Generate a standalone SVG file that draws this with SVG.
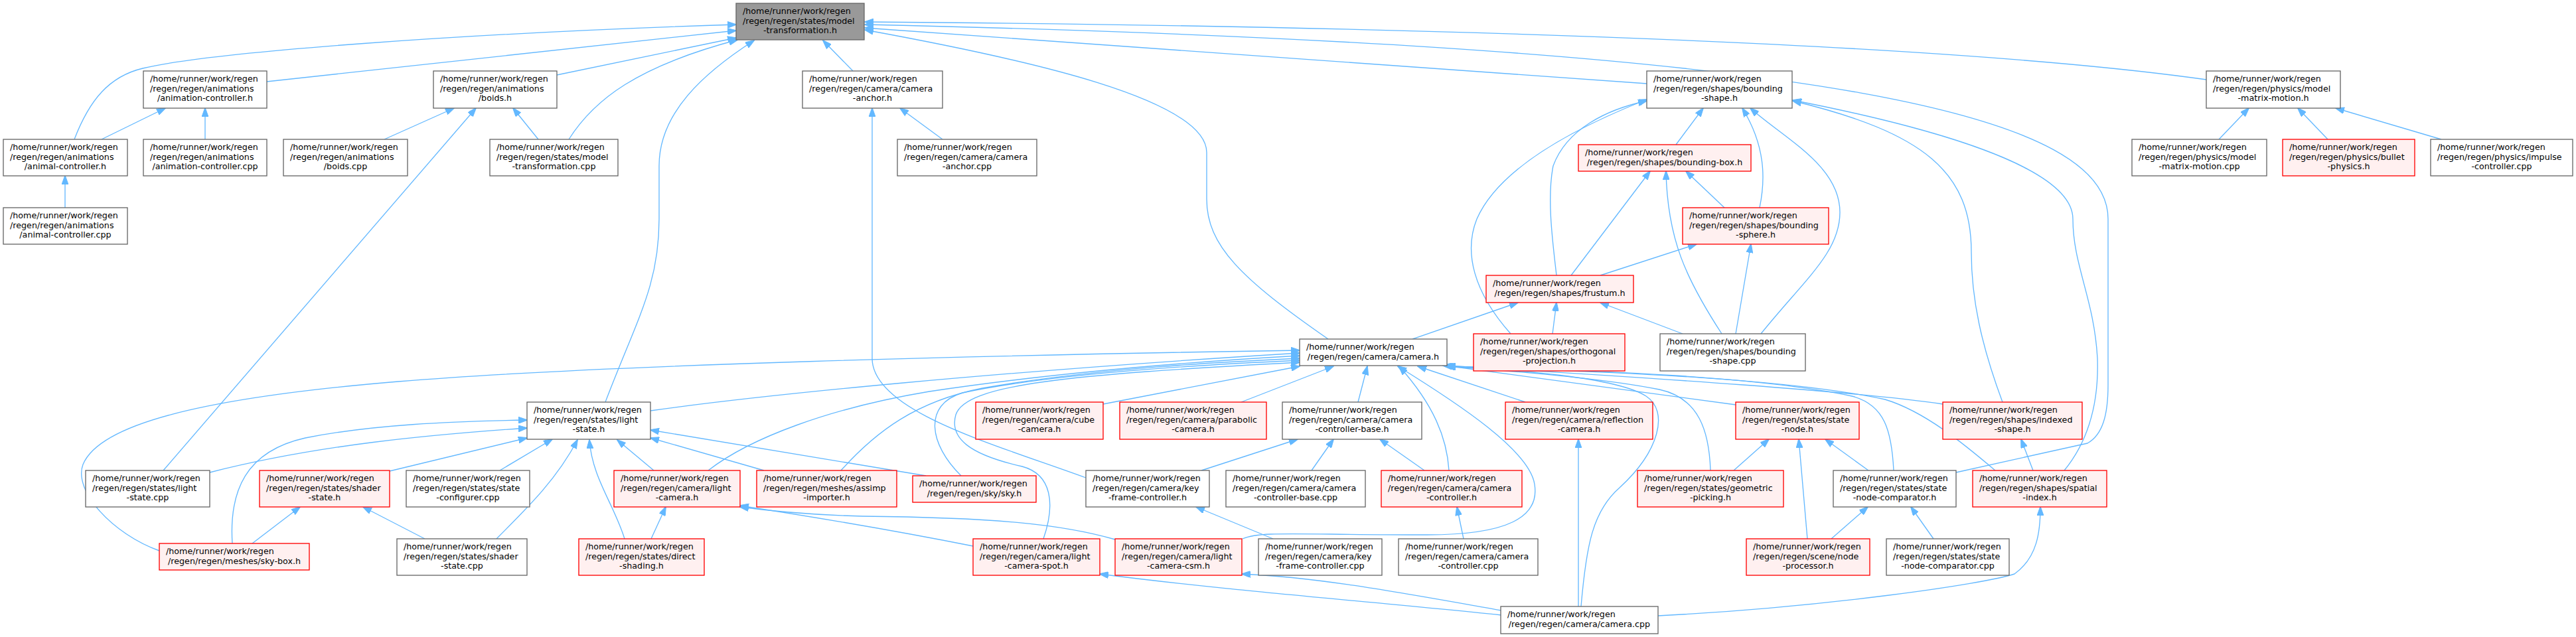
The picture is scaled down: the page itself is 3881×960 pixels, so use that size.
<svg xmlns="http://www.w3.org/2000/svg" width="3881" height="960" viewBox="0 0 3881 960">
<style>
.w{fill:#ffffff;stroke:#666666;stroke-width:1.33}
.r{fill:#fff0f0;stroke:#ff0000;stroke-width:1.33}
.g{fill:#999999;stroke:#666666;stroke-width:1.33}
text{font-family:"DejaVu Sans","Liberation Sans",sans-serif;font-size:12.7px;fill:#000000}
.m{text-anchor:middle}
.e{fill:none;stroke:#63b8ff;stroke-width:1.33;marker-end:url(#a)}
</style>
<defs>
<marker id="a" viewBox="0 0 14 10" refX="13" refY="5" markerWidth="14" markerHeight="10" markerUnits="userSpaceOnUse" orient="auto">
<path d="M0,0L14,5L0,10z" fill="#63b8ff" stroke="#63b8ff" stroke-width="1"/>
</marker>
</defs>
<rect width="3881" height="960" fill="#ffffff"/>
<g id="edges">
<path class="e" d="M402,123 L1109,46"/>
<path class="e" d="M112,210 C135,150 165,115 215,103 C320,78 700,50 1109,37"/>
<path class="e" d="M839,113 L1109,57"/>
<path class="e" d="M857,210 C895,150 960,100 1111,60"/>
<path class="e" d="M912,606 C960,480 993,430 993,330 L993,250 C993,170 1060,110 1136,61"/>
<path class="e" d="M1285,107 L1240,61"/>
<path class="e" d="M2001,511 C1870,420 1818,370 1818,300 L1818,230 C1818,150 1550,90 1303,45"/>
<path class="e" d="M2481,126 L1303,42"/>
<path class="e" d="M3324,120 C2900,60 2000,38 1303,33"/>
<path class="e" d="M2947,712 L3145,668 C3168,655 3176,625 3176,580 L3176,330 C3176,180 2800,70 1303,37"/>
<path class="e" d="M3110,709 C3150,660 3162,600 3160,540 C3155,450 3123,400 3123,330 C3123,250 2900,190 2701,151"/>
<path class="e" d="M3017,606 C2985,520 2970,450 2970,380 C2970,260 2900,200 2701,152"/>
<path class="e" d="M2525,218 L2566,163"/>
<path class="e" d="M2651,313 C2660,270 2660,220 2625,163"/>
<path class="e" d="M2653,503 C2720,420 2772,380 2772,320 C2772,250 2690,210 2637,163"/>
<path class="e" d="M2276,503 C2220,440 2205,380 2225,330 C2260,250 2380,190 2481,150"/>
<path class="e" d="M2345,415 C2340,370 2330,300 2340,250 C2360,195 2420,165 2481,152"/>
<path class="e" d="M2367,415 L2486,258"/>
<path class="e" d="M2594,503 C2540,420 2512,360 2510,258"/>
<path class="e" d="M2598,313 L2540,258"/>
<path class="e" d="M2411,415 L2556,368"/>
<path class="e" d="M2615,503 L2638,368"/>
<path class="e" d="M2128,511 L2287,456"/>
<path class="e" d="M2339,503 L2345,456"/>
<path class="e" d="M2535,503 L2411,456"/>
<path class="e" d="M3343,210 L3388,163"/>
<path class="e" d="M3507,210 L3462,163"/>
<path class="e" d="M3678,210 L3519,163"/>
<path class="e" d="M309,210 L309,163"/>
<path class="e" d="M153,210 L249,163"/>
<path class="e" d="M98,313 L98,265"/>
<path class="e" d="M579,210 L684,163"/>
<path class="e" d="M811,210 L773,163"/>
<path class="e" d="M246,709 L717,163"/>
<path class="e" d="M1420,210 L1356,163"/>
<path class="e" d="M1636,720 C1500,670 1314,620 1314,540 L1314,163"/>
<path class="e" d="M240,830 C170,805 110,740 125,700 C150,640 300,600 600,575 C900,550 1500,535 1958,528"/>
<path class="e" d="M980,619 C1150,595 1500,560 1958,532"/>
<path class="e" d="M1067,709 C1130,660 1250,615 1400,590 C1600,560 1800,545 1958,536"/>
<path class="e" d="M1267,709 C1320,650 1380,605 1480,585 C1650,555 1850,545 1958,540"/>
<path class="e" d="M1448,717 C1400,670 1390,610 1450,592 C1600,560 1850,548 1958,543"/>
<path class="e" d="M1572,812 C1590,760 1585,715 1540,703 C1460,685 1430,660 1440,625 C1455,580 1600,565 1958,546"/>
<path class="e" d="M1662,609 L1958,552"/>
<path class="e" d="M1870,606 L2009,552"/>
<path class="e" d="M2046,606 L2060,552"/>
<path class="e" d="M2183,709 C2180,660 2160,610 2108,552"/>
<path class="e" d="M1872,812 C1900,800 1950,806 2150,806 C2270,806 2320,780 2312,730 C2305,680 2200,610 2106,552"/>
<path class="e" d="M2298,606 L2136,552"/>
<path class="e" d="M2382,914 C2390,820 2400,770 2440,735 C2500,680 2515,620 2480,597 C2430,565 2250,556 2174,551"/>
<path class="e" d="M2577,709 C2575,650 2560,600 2500,587 C2400,567 2250,558 2176,551"/>
<path class="e" d="M2615,610 L2178,551"/>
<path class="e" d="M2927,609 C2800,590 2500,570 2180,551"/>
<path class="e" d="M2853,709 C2850,650 2840,610 2790,597 C2650,567 2400,558 2180,552"/>
<path class="e" d="M3006,709 C2960,670 2900,620 2840,602 C2700,572 2450,560 2180,553"/>
<path class="e" d="M316,712 C480,670 650,655 794,645"/>
<path class="e" d="M350,819 C345,740 370,680 460,660 C560,640 680,635 794,633"/>
<path class="e" d="M587,710 L794,660"/>
<path class="e" d="M753,709 L832,662"/>
<path class="e" d="M748,812 C800,760 840,720 870,663"/>
<path class="e" d="M941,812 C925,760 892,720 888,663"/>
<path class="e" d="M985,709 L930,663"/>
<path class="e" d="M1151,709 L980,660"/>
<path class="e" d="M1395,717 L980,648"/>
<path class="e" d="M981,812 L1003,764"/>
<path class="e" d="M1466,823 C1350,800 1200,775 1115,762"/>
<path class="e" d="M1680,813 C1600,790 1500,780 1300,778 C1220,776 1160,770 1115,764"/>
<path class="e" d="M380,819 L452,764"/>
<path class="e" d="M640,812 L547,764"/>
<path class="e" d="M2262,927 C2050,905 1850,890 1657,865"/>
<path class="e" d="M2262,920 C2120,895 1990,870 1871,865"/>
<path class="e" d="M2378,914 L2378,662"/>
<path class="e" d="M2498,928 C2750,915 2990,880 3035,865 C3070,840 3074,800 3074,764"/>
<path class="e" d="M1810,709 L1955,662"/>
<path class="e" d="M1976,709 L2009,662"/>
<path class="e" d="M2146,709 L2079,662"/>
<path class="e" d="M1918,812 L1802,764"/>
<path class="e" d="M2205,812 L2195,764"/>
<path class="e" d="M2612,709 L2665,662"/>
<path class="e" d="M2723,812 L2710,662"/>
<path class="e" d="M2815,709 L2750,662"/>
<path class="e" d="M2759,812 L2814,764"/>
<path class="e" d="M2913,812 L2879,764"/>
<path class="e" d="M3063,709 L3045,662"/>
</g>
<g id="n0"><rect class="g" x="1109" y="5" width="193" height="55"/><text x="1119" y="21">/home/runner/work/regen</text><text x="1119" y="35.7">/regen/regen/states/model</text><text class="m" x="1205.5" y="50.3">-transformation.h</text></g>
<g id="n1"><rect class="w" x="216" y="107" width="186" height="56"/><text x="226" y="123">/home/runner/work/regen</text><text x="226" y="137.7">/regen/regen/animations</text><text class="m" x="309" y="152.3">/animation-controller.h</text></g>
<g id="n2"><rect class="w" x="653" y="107" width="186" height="56"/><text x="663" y="123">/home/runner/work/regen</text><text x="663" y="137.7">/regen/regen/animations</text><text class="m" x="746" y="152.3">/boids.h</text></g>
<g id="n3"><rect class="w" x="1209" y="107" width="211" height="56"/><text x="1219" y="123">/home/runner/work/regen</text><text x="1219" y="137.7">/regen/regen/camera/camera</text><text class="m" x="1314.5" y="152.3">-anchor.h</text></g>
<g id="n4"><rect class="w" x="2481" y="107" width="219" height="56"/><text x="2491" y="123">/home/runner/work/regen</text><text x="2491" y="137.7">/regen/regen/shapes/bounding</text><text class="m" x="2590.5" y="152.3">-shape.h</text></g>
<g id="n5"><rect class="w" x="3324" y="107" width="202" height="56"/><text x="3334" y="123">/home/runner/work/regen</text><text x="3334" y="137.7">/regen/regen/physics/model</text><text class="m" x="3425" y="152.3">-matrix-motion.h</text></g>
<g id="n6"><rect class="w" x="5" y="210" width="187" height="55"/><text x="15" y="226">/home/runner/work/regen</text><text x="15" y="240.7">/regen/regen/animations</text><text class="m" x="98.5" y="255.3">/animal-controller.h</text></g>
<g id="n7"><rect class="w" x="216" y="210" width="186" height="55"/><text x="226" y="226">/home/runner/work/regen</text><text x="226" y="240.7">/regen/regen/animations</text><text class="m" x="309" y="255.3">/animation-controller.cpp</text></g>
<g id="n8"><rect class="w" x="427" y="210" width="187" height="55"/><text x="437" y="226">/home/runner/work/regen</text><text x="437" y="240.7">/regen/regen/animations</text><text class="m" x="520.5" y="255.3">/boids.cpp</text></g>
<g id="n9"><rect class="w" x="738" y="210" width="193" height="55"/><text x="748" y="226">/home/runner/work/regen</text><text x="748" y="240.7">/regen/regen/states/model</text><text class="m" x="834.5" y="255.3">-transformation.cpp</text></g>
<g id="n10"><rect class="w" x="1352" y="210" width="210" height="55"/><text x="1362" y="226">/home/runner/work/regen</text><text x="1362" y="240.7">/regen/regen/camera/camera</text><text class="m" x="1457" y="255.3">-anchor.cpp</text></g>
<g id="n11"><rect class="r" x="2378" y="218" width="260" height="40"/><text x="2388" y="234">/home/runner/work/regen</text><text class="m" x="2508" y="248.5">/regen/regen/shapes/bounding-box.h</text></g>
<g id="n12"><rect class="w" x="3212" y="210" width="203" height="55"/><text x="3222" y="226">/home/runner/work/regen</text><text x="3222" y="240.7">/regen/regen/physics/model</text><text class="m" x="3313.5" y="255.3">-matrix-motion.cpp</text></g>
<g id="n13"><rect class="r" x="3439" y="210" width="199" height="55"/><text x="3449" y="226">/home/runner/work/regen</text><text x="3449" y="240.7">/regen/regen/physics/bullet</text><text class="m" x="3538.5" y="255.3">-physics.h</text></g>
<g id="n14"><rect class="w" x="3662" y="210" width="214" height="55"/><text x="3672" y="226">/home/runner/work/regen</text><text x="3672" y="240.7">/regen/regen/physics/impulse</text><text class="m" x="3769" y="255.3">-controller.cpp</text></g>
<g id="n15"><rect class="w" x="5" y="313" width="187" height="55"/><text x="15" y="329">/home/runner/work/regen</text><text x="15" y="343.7">/regen/regen/animations</text><text class="m" x="98.5" y="358.3">/animal-controller.cpp</text></g>
<g id="n16"><rect class="r" x="2535" y="313" width="220" height="55"/><text x="2545" y="329">/home/runner/work/regen</text><text x="2545" y="343.7">/regen/regen/shapes/bounding</text><text class="m" x="2645" y="358.3">-sphere.h</text></g>
<g id="n17"><rect class="r" x="2239" y="415" width="222" height="41"/><text x="2249" y="431">/home/runner/work/regen</text><text class="m" x="2350" y="445.5">/regen/regen/shapes/frustum.h</text></g>
<g id="n18"><rect class="w" x="1958" y="511" width="222" height="40"/><text x="1968" y="527">/home/runner/work/regen</text><text class="m" x="2069" y="541.5">/regen/regen/camera/camera.h</text></g>
<g id="n19"><rect class="r" x="2220" y="503" width="228" height="56"/><text x="2230" y="519">/home/runner/work/regen</text><text x="2230" y="533.7">/regen/regen/shapes/orthogonal</text><text class="m" x="2334" y="548.3">-projection.h</text></g>
<g id="n20"><rect class="w" x="2501" y="503" width="219" height="56"/><text x="2511" y="519">/home/runner/work/regen</text><text x="2511" y="533.7">/regen/regen/shapes/bounding</text><text class="m" x="2610.5" y="548.3">-shape.cpp</text></g>
<g id="n21"><rect class="w" x="794" y="606" width="186" height="56"/><text x="804" y="622">/home/runner/work/regen</text><text x="804" y="636.7">/regen/regen/states/light</text><text class="m" x="887" y="651.3">-state.h</text></g>
<g id="n22"><rect class="r" x="1470" y="606" width="192" height="56"/><text x="1480" y="622">/home/runner/work/regen</text><text x="1480" y="636.7">/regen/regen/camera/cube</text><text class="m" x="1566" y="651.3">-camera.h</text></g>
<g id="n23"><rect class="r" x="1687" y="606" width="221" height="56"/><text x="1697" y="622">/home/runner/work/regen</text><text x="1697" y="636.7">/regen/regen/camera/parabolic</text><text class="m" x="1797.5" y="651.3">-camera.h</text></g>
<g id="n24"><rect class="w" x="1932" y="606" width="210" height="56"/><text x="1942" y="622">/home/runner/work/regen</text><text x="1942" y="636.7">/regen/regen/camera/camera</text><text class="m" x="2037" y="651.3">-controller-base.h</text></g>
<g id="n25"><rect class="r" x="2268" y="606" width="222" height="56"/><text x="2278" y="622">/home/runner/work/regen</text><text x="2278" y="636.7">/regen/regen/camera/reflection</text><text class="m" x="2379" y="651.3">-camera.h</text></g>
<g id="n26"><rect class="r" x="2615" y="606" width="186" height="56"/><text x="2625" y="622">/home/runner/work/regen</text><text x="2625" y="636.7">/regen/regen/states/state</text><text class="m" x="2708" y="651.3">-node.h</text></g>
<g id="n27"><rect class="r" x="2927" y="606" width="210" height="56"/><text x="2937" y="622">/home/runner/work/regen</text><text x="2937" y="636.7">/regen/regen/shapes/indexed</text><text class="m" x="3032" y="651.3">-shape.h</text></g>
<g id="n28"><rect class="w" x="129" y="709" width="187" height="55"/><text x="139" y="725">/home/runner/work/regen</text><text x="139" y="739.7">/regen/regen/states/light</text><text class="m" x="222.5" y="754.3">-state.cpp</text></g>
<g id="n29"><rect class="r" x="391" y="709" width="196" height="55"/><text x="401" y="725">/home/runner/work/regen</text><text x="401" y="739.7">/regen/regen/states/shader</text><text class="m" x="489" y="754.3">-state.h</text></g>
<g id="n30"><rect class="w" x="612" y="709" width="186" height="55"/><text x="622" y="725">/home/runner/work/regen</text><text x="622" y="739.7">/regen/regen/states/state</text><text class="m" x="705" y="754.3">-configurer.cpp</text></g>
<g id="n31"><rect class="r" x="925" y="709" width="190" height="55"/><text x="935" y="725">/home/runner/work/regen</text><text x="935" y="739.7">/regen/regen/camera/light</text><text class="m" x="1020" y="754.3">-camera.h</text></g>
<g id="n32"><rect class="r" x="1140" y="709" width="211" height="55"/><text x="1150" y="725">/home/runner/work/regen</text><text x="1150" y="739.7">/regen/regen/meshes/assimp</text><text class="m" x="1245.5" y="754.3">-importer.h</text></g>
<g id="n33"><rect class="r" x="1375" y="717" width="186" height="40"/><text x="1385" y="733">/home/runner/work/regen</text><text class="m" x="1468" y="747.5">/regen/regen/sky/sky.h</text></g>
<g id="n34"><rect class="w" x="1636" y="709" width="186" height="55"/><text x="1646" y="725">/home/runner/work/regen</text><text x="1646" y="739.7">/regen/regen/camera/key</text><text class="m" x="1729" y="754.3">-frame-controller.h</text></g>
<g id="n35"><rect class="w" x="1847" y="709" width="210" height="55"/><text x="1857" y="725">/home/runner/work/regen</text><text x="1857" y="739.7">/regen/regen/camera/camera</text><text class="m" x="1952" y="754.3">-controller-base.cpp</text></g>
<g id="n36"><rect class="r" x="2081" y="709" width="212" height="55"/><text x="2091" y="725">/home/runner/work/regen</text><text x="2091" y="739.7">/regen/regen/camera/camera</text><text class="m" x="2187" y="754.3">-controller.h</text></g>
<g id="n37"><rect class="r" x="2467" y="709" width="220" height="55"/><text x="2477" y="725">/home/runner/work/regen</text><text x="2477" y="739.7">/regen/regen/states/geometric</text><text class="m" x="2577" y="754.3">-picking.h</text></g>
<g id="n38"><rect class="w" x="2762" y="709" width="185" height="55"/><text x="2772" y="725">/home/runner/work/regen</text><text x="2772" y="739.7">/regen/regen/states/state</text><text class="m" x="2854.5" y="754.3">-node-comparator.h</text></g>
<g id="n39"><rect class="r" x="2972" y="709" width="202" height="55"/><text x="2982" y="725">/home/runner/work/regen</text><text x="2982" y="739.7">/regen/regen/shapes/spatial</text><text class="m" x="3073" y="754.3">-index.h</text></g>
<g id="n40"><rect class="r" x="240" y="819" width="226" height="40"/><text x="250" y="835">/home/runner/work/regen</text><text class="m" x="353" y="849.5">/regen/regen/meshes/sky-box.h</text></g>
<g id="n41"><rect class="w" x="598" y="812" width="196" height="55"/><text x="608" y="828">/home/runner/work/regen</text><text x="608" y="842.7">/regen/regen/states/shader</text><text class="m" x="696" y="857.3">-state.cpp</text></g>
<g id="n42"><rect class="r" x="872" y="812" width="189" height="55"/><text x="882" y="828">/home/runner/work/regen</text><text x="882" y="842.7">/regen/regen/states/direct</text><text class="m" x="966.5" y="857.3">-shading.h</text></g>
<g id="n43"><rect class="r" x="1466" y="812" width="191" height="55"/><text x="1476" y="828">/home/runner/work/regen</text><text x="1476" y="842.7">/regen/regen/camera/light</text><text class="m" x="1561.5" y="857.3">-camera-spot.h</text></g>
<g id="n44"><rect class="r" x="1680" y="812" width="191" height="55"/><text x="1690" y="828">/home/runner/work/regen</text><text x="1690" y="842.7">/regen/regen/camera/light</text><text class="m" x="1775.5" y="857.3">-camera-csm.h</text></g>
<g id="n45"><rect class="w" x="1896" y="812" width="186" height="55"/><text x="1906" y="828">/home/runner/work/regen</text><text x="1906" y="842.7">/regen/regen/camera/key</text><text class="m" x="1989" y="857.3">-frame-controller.cpp</text></g>
<g id="n46"><rect class="w" x="2107" y="812" width="210" height="55"/><text x="2117" y="828">/home/runner/work/regen</text><text x="2117" y="842.7">/regen/regen/camera/camera</text><text class="m" x="2212" y="857.3">-controller.cpp</text></g>
<g id="n47"><rect class="r" x="2631" y="812" width="186" height="55"/><text x="2641" y="828">/home/runner/work/regen</text><text x="2641" y="842.7">/regen/regen/scene/node</text><text class="m" x="2724" y="857.3">-processor.h</text></g>
<g id="n48"><rect class="w" x="2842" y="812" width="185" height="55"/><text x="2852" y="828">/home/runner/work/regen</text><text x="2852" y="842.7">/regen/regen/states/state</text><text class="m" x="2934.5" y="857.3">-node-comparator.cpp</text></g>
<g id="n49"><rect class="w" x="2261" y="914" width="237" height="41"/><text x="2271" y="930">/home/runner/work/regen</text><text class="m" x="2379.5" y="944.5">/regen/regen/camera/camera.cpp</text></g>
</svg>
